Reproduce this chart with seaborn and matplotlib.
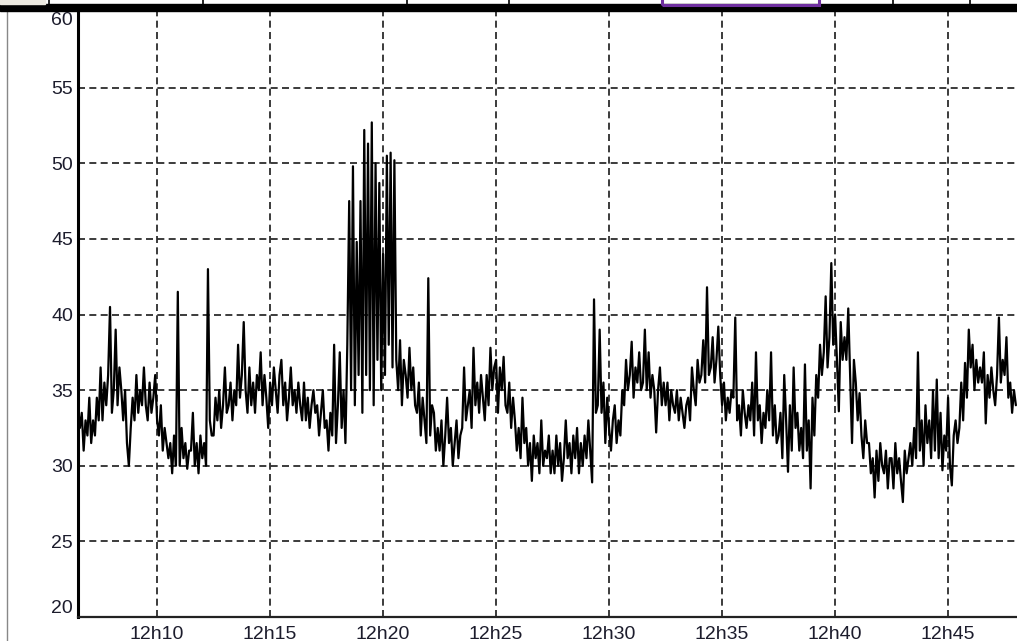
import numpy as np
import pandas as pd
import matplotlib.pyplot as plt
import seaborn as sns
from matplotlib.patches import Rectangle
from matplotlib.lines import Line2D

# readings, one every 5 s, starting at 12h06m30s (one row per minute)
start_min = 6.5
step_min = 1 / 12
values = [
    34, 32.5, 33.5, 31, 33, 32, 34.5, 31.5, 33, 32, 34.5, 33,
    36.5, 33, 35.5, 34, 36, 40.5, 33.5, 35, 39, 34, 36.5, 35,
    33, 35, 31.5, 30, 32.5, 34.5, 33, 36, 33.5, 35, 34, 36.5,
    34, 33, 35.5, 33.5, 34.5, 36, 33, 32, 34, 31, 32.5, 31.5,
    30.5, 31.5, 29.5, 32, 30, 41.5, 30, 32.5, 30.5, 31.5, 29.8, 31,
    31, 33.5, 30, 31.5, 29.5, 32, 30.5, 31.5, 30, 43, 33, 32,
    32, 34.5, 33, 35, 32.5, 34, 36.5, 33.5, 34, 35.5, 33, 35,
    34, 38, 34.5, 36, 39.5, 35, 33.5, 36.5, 34, 35.5, 33.5, 36,
    35, 37.5, 34, 36, 34.5, 32.5, 35.5, 34, 36.5, 35, 33.5, 36,
    37, 34, 35.5, 33, 34.5, 36.5, 34, 35, 33.5, 35.5, 34, 33,
    35.5, 33, 34.5, 32.5, 34, 35, 33.5, 34, 32, 33.5, 35, 32.5,
    33, 31, 33.5, 32, 38, 31.5, 34, 37.5, 32.5, 35, 31.5, 38,
    47.5, 35, 49.8, 34, 44.8, 36, 47.5, 33.5, 52.2, 36, 51.3, 35,
    52.7, 34, 50, 37, 48.7, 35, 44, 36, 50.5, 38, 50.7, 36.5,
    50.2, 37, 35, 38.3, 34, 37, 36, 34.5, 37.8, 35, 36.5, 34,
    33.5, 35.5, 32, 34.5, 33, 31.5, 42.4, 32, 34, 33.5, 31, 32.5,
    31, 33, 30, 32, 34.5, 31.5, 32.5, 30, 31.5, 33, 30.5, 32,
    32.5, 36.5, 33, 34, 35, 32.5, 37.8, 34, 35.5, 33.5, 36, 34.5,
    33, 36, 34, 37.8, 35, 36.5, 37, 33.5, 36.5, 35, 37.2, 34,
    33.5, 35.5, 32.5, 34.5, 33, 31, 32.5, 30.5, 34.5, 31.5, 32.5, 30,
    31.5, 29, 32, 30.5, 31.5, 29.5, 33, 30, 31, 30.5, 32, 29.5,
    31, 29.5, 32, 30, 31.5, 29, 30.5, 33, 30.5, 31.5, 29.5, 32,
    30.5, 32.5, 29.5, 31.5, 30, 32, 30.5, 33, 31, 28.9, 41, 33.5,
    34, 39, 33.5, 35.5, 31.5, 34.5, 32.5, 31, 33, 34, 31.5, 33,
    32, 35, 34, 37, 35, 36, 38.2, 34.5, 36.5, 35.5, 37.5, 35,
    35.5, 39, 35, 37.5, 34.5, 36, 35, 32.2, 35, 36.5, 34, 35.5,
    34, 35.5, 33, 35, 34, 33.5, 35, 33, 34.5, 33.5, 32.5, 34,
    34.5, 33, 36.5, 35, 34, 37, 35.5, 36, 38.3, 35.5, 41.8, 36,
    36.5, 38.5, 35.5, 37, 39.2, 36, 34, 35.5, 33, 34.5, 33.5, 35,
    34.5, 39.8, 33, 34, 32, 35, 33.5, 32.5, 34, 33, 35.5, 32,
    37.5, 33, 34, 31.5, 33.5, 32.5, 35, 33, 37.5, 32, 34, 31.5,
    32, 33.5, 30.5, 36, 33, 29.6, 34, 31, 36.5, 32.5, 33.5, 31,
    32.5, 30.5, 36.7, 31, 33, 28.5, 34.5, 32, 36, 34.5, 38, 36,
    37.5, 41.2, 36.5, 38.5, 43.4, 38, 40, 37, 33.6, 39.5, 37, 38.5,
    37, 40.4, 36, 31.5, 37, 35.5, 33, 34.8, 32, 30.5, 33, 31.5,
    31.5, 29.5, 30.5, 27.9, 31, 29, 31.5, 30, 29.5, 31, 28.5, 30.5,
    30.5, 28.5, 31.5, 29.5, 30.5, 29, 27.6, 31, 29.5, 30.5, 31.5, 30,
    32.5, 30.5, 37.5, 31, 33, 30, 34, 31.5, 33, 30.5, 35, 31,
    35.7, 30.5, 33.5, 29.7, 32, 31, 34.5, 30, 28.7, 32, 33, 31.5,
    32.5, 35.5, 33, 36.8, 34.5, 39, 36.5, 38, 35, 37, 35.5, 36.5,
    35.5, 37.5, 32.8, 36, 34.5, 36.5, 35, 34, 36, 39.8, 35.5, 37,
    36, 38.5, 34.5, 35.5, 33.5, 35, 34,
]
x_ticks = [10, 15, 20, 25, 30, 35, 40, 45]
x_labels = ["12h10", "12h15", "12h20", "12h25", "12h30", "12h35", "12h40", "12h45"]
y_ticks = [20, 25, 30, 35, 40, 45, 50, 55, 60]

df = pd.DataFrame({"minute": start_min + step_min * np.arange(len(values)),
                   "value": values})

sns.set_style("white")
plt.rcParams['font.family'] = ['Liberation Sans', 'DejaVu Sans']

fig = plt.figure(figsize=(10.17, 6.41), dpi=100)
ax = fig.add_axes([78 / 1017, 24 / 641, 1 - 78 / 1017, 605 / 641])

sns.lineplot(data=df, x="minute", y="value", color="black", lw=1.6, ax=ax)

ax.set_xlim(6.5, 48.05)
ax.set_ylim(20, 60)
ax.set_xticks(x_ticks)
ax.set_xticklabels(x_labels)
ax.set_yticks(y_ticks)
ax.set_yticklabels([str(v) for v in y_ticks])
ax.set_xlabel("")
ax.set_ylabel("")
ax.tick_params(axis="both", length=0, labelsize=14, labelcolor="#1c1c2c")
ax.tick_params(axis="x", pad=6.5)
ax.tick_params(axis="y", pad=3.5)
ylab = ax.get_yticklabels()
ylab[0].set_va("bottom")
ylab[-1].set_va("top")

ax.grid(True, color="#1a1a1a", lw=1.2, linestyle=(0, (4.2, 2.6)))
ax.yaxis.get_gridlines()[-1].set_visible(False)

for s in ["top", "right"]:
    ax.spines[s].set_visible(False)
ax.spines["left"].set_linewidth(2.2)
ax.spines["left"].set_color("black")
ax.spines["bottom"].set_linewidth(1.6)
ax.spines["bottom"].set_color("#222222")

# cropped window chrome along the top
H = 641.0
W = 1017.0
fig.patches.append(Rectangle((0, 1 - 11 / H), 1, 7 / H, transform=fig.transFigure,
                             color="black", zorder=5))
fig.patches.append(Rectangle((0, 1 - 4 / H), 45 / W, 4 / H, transform=fig.transFigure,
                             color="#ece9e0", zorder=5))
for px in [49, 203, 407, 509, 893, 970]:
    fig.lines.append(Line2D([px / W, px / W], [1 - 4 / H, 1], transform=fig.transFigure,
                            color="black", lw=1.2, zorder=6))
fig.patches.append(Rectangle((662 / W, 1 - 5 / H), 157 / W, 6 / H, transform=fig.transFigure,
                             fill=False, edgecolor="#7030a0", lw=2.2, zorder=7))
fig.lines.append(Line2D([7 / W, 7 / W], [0, 1 - 11 / H], transform=fig.transFigure,
                        color="#888888", lw=1.0))

fig.savefig("out.png", dpi=100)
